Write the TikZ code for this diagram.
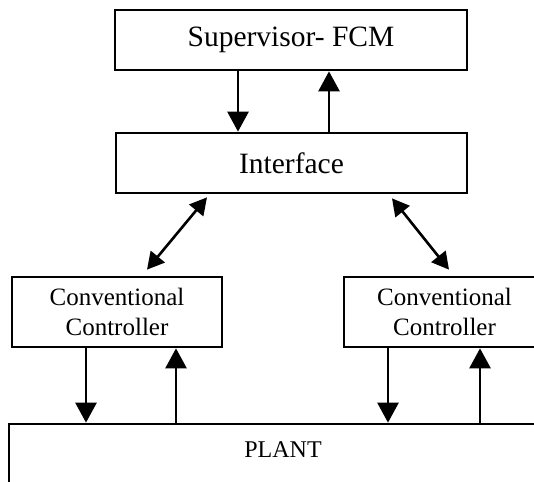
\documentclass[tikz,border=0pt]{standalone}
\usepackage{fontspec}
\setmainfont{Liberation Serif}
\usetikzlibrary{arrows.meta,calc}
\tikzset{
  box/.style={draw=black, line width=2.7pt, rectangle, inner sep=0pt, align=center},
  arr/.style={line width=2.6pt, -{Triangle[length=20pt,width=21pt]}},
  darr/.style={line width=2.6pt, {Triangle[length=17pt,width=18pt]}-{Triangle[length=17pt,width=18pt]}},
  bigtxt/.style={font=\fontsize{29.5}{34}\selectfont},
  ctltxt/.style={font=\fontsize{25}{30}\selectfont},
}
\begin{document}
\begin{tikzpicture}[x=1pt,y=-1pt]
\clip (0,0) rectangle (534,481);
\fill[white] (0,0) rectangle (534,481);
\node[box,bigtxt,minimum width=352pt,minimum height=60pt] (sup) at (291,40) {Supervisor- FCM};
\node[box,bigtxt,minimum width=351pt,minimum height=60pt] (iface) at (291.5,163) {Interface};
\node[box,ctltxt,minimum width=210pt,minimum height=70pt] (lc) at (117,312) {Conventional\\Controller};
\node[box,ctltxt,minimum width=201pt,minimum height=70pt] (rc) at (444.5,312) {Conventional\\Controller};
\node[box,minimum width=551pt,minimum height=76pt] (plant) at (284.5,462) {};
\node[font=\fontsize{24}{28}\selectfont] (plantlabel) at (283,450) {PLANT};
% supervisor <-> interface
\draw[arr] (sup.south -| 238,0) -- (iface.north -| 238,0);
\draw[arr] (iface.north -| 329,0) -- (sup.south -| 329,0);
% interface <-> controllers
\draw[darr] ($(iface.south -| 207,0)+(0,3)$) -- ($(lc.north -| 147,0)+(0,-6)$);
\draw[darr] ($(iface.south -| 392,0)+(0,4)$) -- ($(rc.north -| 449,0)+(0,-6)$);
% controllers <-> plant
\draw[arr] (lc.south -| 86,0) -- (plant.north -| 86,0);
\draw[arr] (plant.north -| 176,0) -- (lc.south -| 176,0);
\draw[arr] (rc.south -| 388,0) -- (plant.north -| 388,0);
\draw[arr] (plant.north -| 480,0) -- (rc.south -| 480,0);
\end{tikzpicture}
\end{document}
